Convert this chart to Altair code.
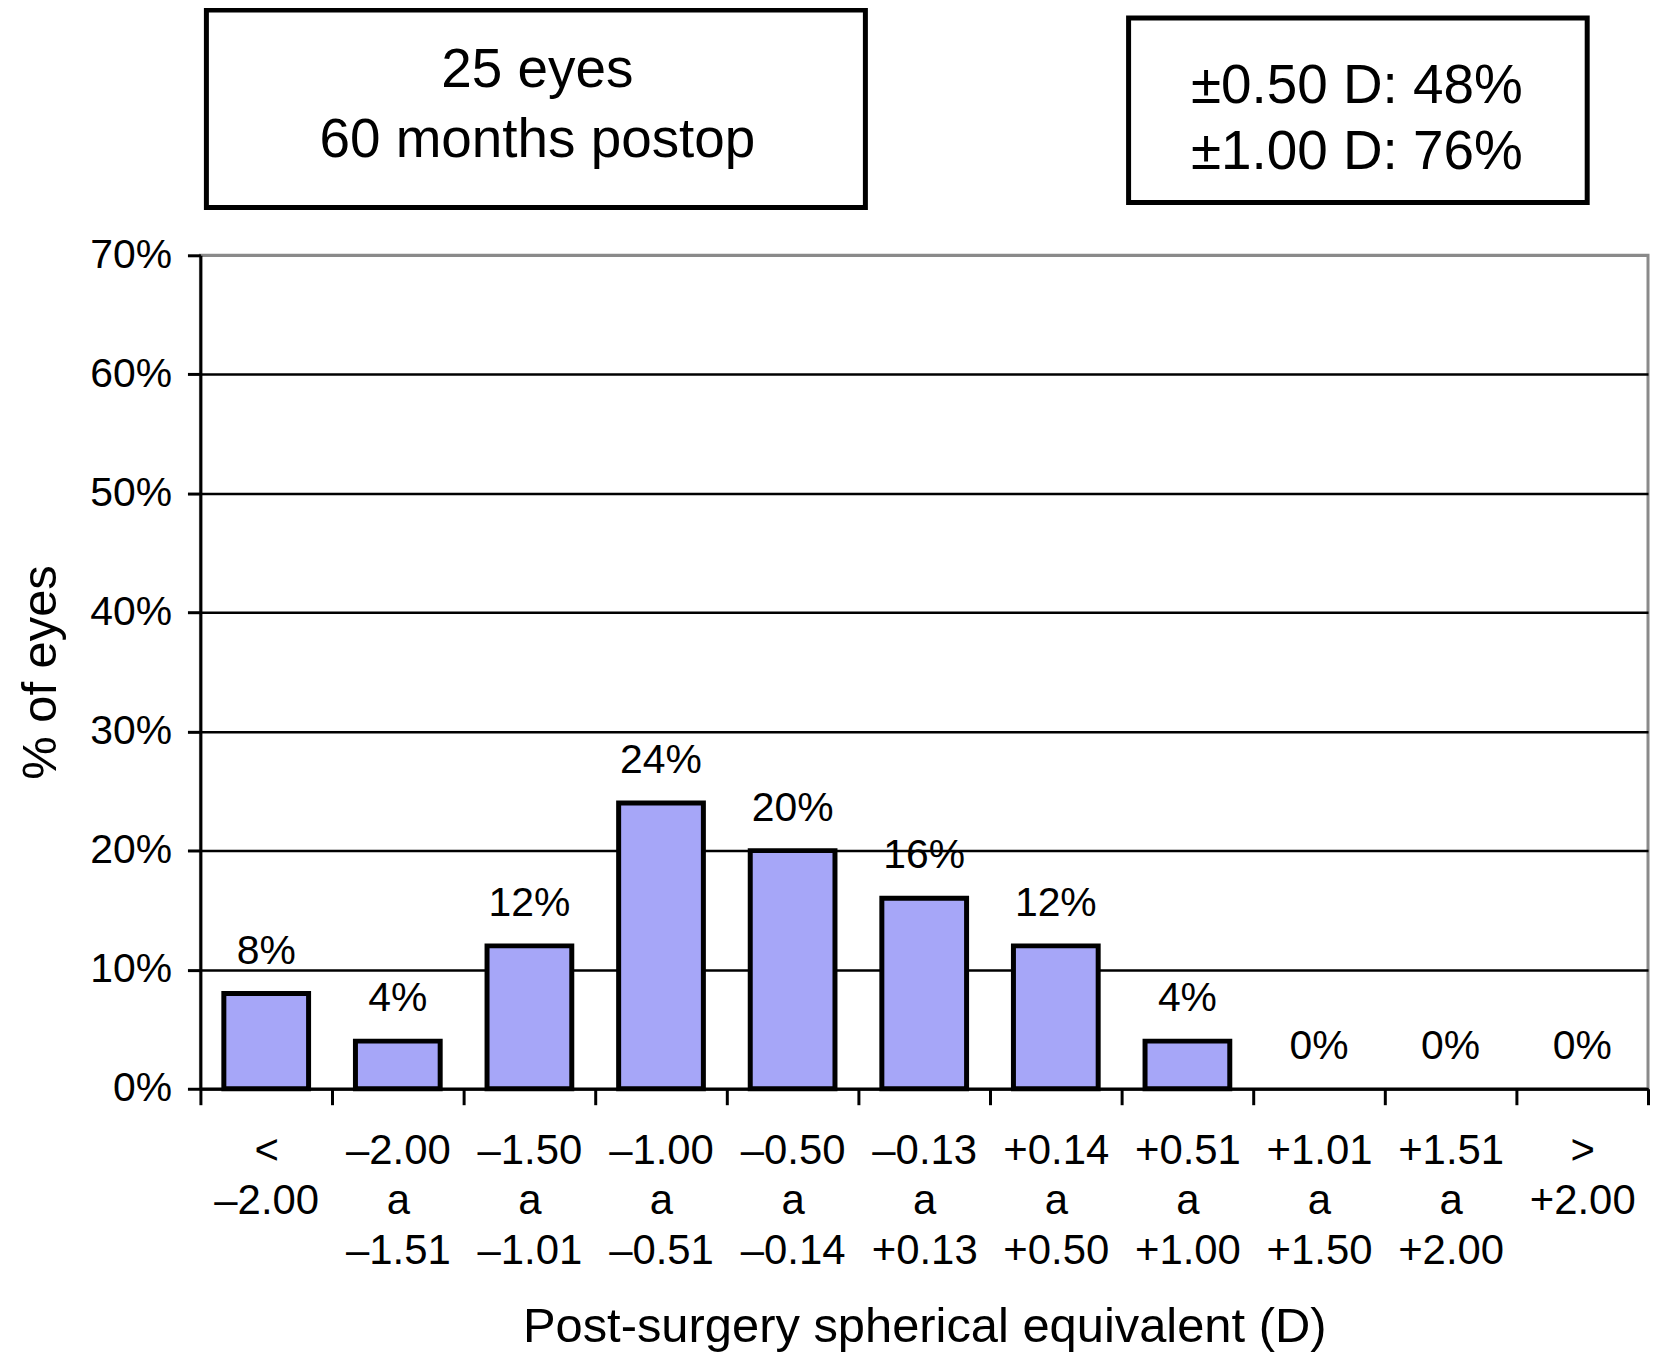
import altair as alt
import pandas as pd

categories = [
    "<\n–2.00", "–2.00\na\n–1.51", "–1.50\na\n–1.01", "–1.00\na\n–0.51",
    "–0.50\na\n–0.14", "–0.13\na\n+0.13", "+0.14\na\n+0.50", "+0.51\na\n+1.00",
    "+1.01\na\n+1.50", "+1.51\na\n+2.00", ">\n+2.00",
]
values = [8, 4, 12, 24, 20, 16, 12, 4, 0, 0, 0]
bar_labels = [f"{v}%" for v in values]
y_ticks = [0, 10, 20, 30, 40, 50, 60, 70]
box1_lines = ["25 eyes", "60 months postop"]
box2_lines = ["±0.50 D: 48%", "±1.00 D: 76%"]
x_title = "Post-surgery spherical equivalent (D)"
y_title = "% of eyes"

FONT = "Liberation Sans"
W, H = 1452, 836

df = pd.DataFrame({"cat": categories, "pct": values, "label": bar_labels})

x_enc = alt.X(
    "cat:N", sort=categories,
    scale=alt.Scale(paddingInner=0, paddingOuter=0),
    axis=alt.Axis(
        title=x_title, labelExpr="split(datum.label, '\\n')", labelAngle=0,
        labelFontSize=42, labelLineHeight=50, labelPadding=26, labelBaseline="top",
        labelOverlap=False, labelColor="black", labelLimit=400,
        tickBand="extent", tickSize=16, tickWidth=3, tickColor="black",
        domainColor="black", domainWidth=3, grid=False,
        titleFontSize=49, titleFontWeight="normal", titleColor="black",
        titleY=254, titleBaseline="alphabetic",
    ),
)
y_enc = alt.Y(
    "pct:Q", scale=alt.Scale(domain=[0, 70], nice=False),
    axis=alt.Axis(
        values=y_ticks, labelExpr="datum.value + '%'", labelFontSize=41,
        labelPadding=16, labelColor="black",
        tickSize=13, tickWidth=3, tickColor="black",
        domainColor="black", domainWidth=3,
        grid=True, gridWidth=2.5,
        gridColor={"condition": {"test": "datum.value >= 70", "value": "#8a8a8a"}, "value": "black"},
        title=y_title, titleFontSize=49, titleFontWeight="normal", titleColor="black",
        titleAngle=270, titleX=-184, titleY=418, titleAlign="center", titleBaseline="top",
    ),
)

base = alt.Chart(df)
bars = base.transform_filter("datum.pct > 0").mark_bar(
    size=85, fill="#a6a6f8", stroke="black", strokeWidth=5, strokeJoin="miter"
).encode(x=x_enc, y=y_enc)
texts = base.mark_text(fontSize=41, baseline="middle", dy=-42, color="black").encode(
    x=alt.X("cat:N", sort=categories), y="pct:Q", text="label:N"
)

one = pd.DataFrame({"t1": ["\n".join(box1_lines)], "t2": ["\n".join(box2_lines)]})
box1 = alt.Chart(one).mark_rect(fill="white", stroke="black", strokeWidth=5).encode(
    x=alt.value(6), x2=alt.value(667), y=alt.value(-246), y2=alt.value(-48)
)
box2 = alt.Chart(one).mark_rect(fill="white", stroke="black", strokeWidth=5).encode(
    x=alt.value(931), x2=alt.value(1391), y=alt.value(-238), y2=alt.value(-53)
)
t1 = alt.Chart(one).mark_text(fontSize=55, align="center", baseline="alphabetic",
                              lineBreak="\n", lineHeight=70, color="black").encode(
    x=alt.value(338), y=alt.value(-169), text="t1:N"
)
t2 = alt.Chart(one).mark_text(fontSize=55, align="center", baseline="alphabetic",
                              lineBreak="\n", lineHeight=66, color="black").encode(
    x=alt.value(1160), y=alt.value(-153), text="t2:N"
)

chart = alt.layer(bars, texts, box1, box2, t1, t2).properties(
    width=W, height=H,
    autosize=alt.AutoSizeParams(type="none"),
    padding={"left": 193, "top": 246, "right": 3, "bottom": 263},
).configure(font=FONT).configure_view(stroke="#8a8a8a", strokeWidth=3)

chart.save("out.html", embed_options={"renderer": "svg", "actions": False})
